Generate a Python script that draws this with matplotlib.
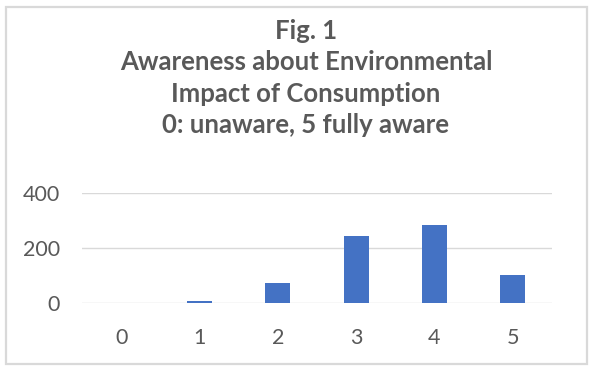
import matplotlib
matplotlib.use("Agg")
import matplotlib.pyplot as plt
from matplotlib.patches import Rectangle

categories = ["0", "1", "2", "3", "4", "5"]
counts = [0, 8, 73, 246, 286, 103]
yticks = [0, 200, 400]
title = "Fig. 1\nAwareness about Environmental\nImpact of Consumption\n0: unaware, 5 fully aware"

W, H = 594, 370
fig = plt.figure(figsize=(W / 100, H / 100), dpi=100)
fig.patch.set_facecolor("white")

# outer frame
fig.add_artist(Rectangle((5.5 / W, 1 - 363.5 / H), (587 - 5.5) / W, (363.5 - 7) / H,
                         transform=fig.transFigure, fill=False, edgecolor="#d9d9d9", lw=1.6))

ax = fig.add_axes([82 / W, 1 - 303.3 / H, (552 - 82) / W, (303.3 - 193.3) / H])
x = list(range(len(categories)))
ax.bar(x, counts, width=0.315, color="#4472C4", zorder=3)
ax.set_xlim(-0.5, len(categories) - 0.5)
ax.set_ylim(0, 400)
ax.set_xticks(x)
ax.set_xticklabels(categories)
ax.set_yticks(yticks)
ax.set_yticklabels([str(v) for v in yticks])
ax.grid(axis="y", color="#d9d9d9", lw=1, zorder=0)
for s in ax.spines.values():
    s.set_visible(False)
ax.tick_params(length=0, labelsize=15.5, labelcolor="#595959")
ax.tick_params(axis="x", pad=18)
ax.tick_params(axis="y", pad=16)
for lab in ax.get_xticklabels() + ax.get_yticklabels():
    lab.set_family("Lato")

fig.text(306 / W, 1 - 78 / H, title, ha="center", va="center", fontsize=18.5,
         fontweight="bold", color="#595959", family="Lato", linespacing=1.38)

fig.savefig("out.png", dpi=100, facecolor="white")
